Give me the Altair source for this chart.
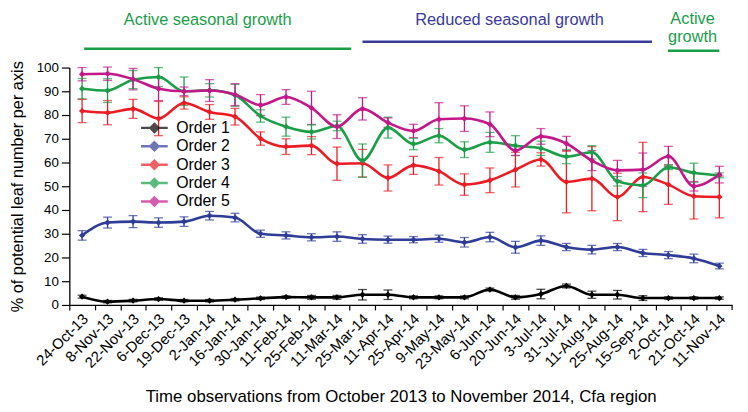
import altair as alt
import pandas as pd

dates = ["24-Oct-13", "8-Nov-13", "22-Nov-13", "6-Dec-13", "19-Dec-13", "2-Jan-14",
         "16-Jan-14", "30-Jan-14", "11-Feb-14", "25-Feb-14", "11-Mar-14", "25-Mar-14",
         "11-Apr-14", "25-Apr-14", "9-May-14", "23-May-14", "6-Jun-14", "20-Jun-14",
         "3-Jul-14", "31-Jul-14", "11-Aug-14", "25-Aug-14", "15-Sep-14", "2-Oct-14",
         "21-Oct-14", "11-Nov-14"]

order1 = [3.5, 1.4, 1.8, 2.5, 1.8, 1.8, 2.2, 2.8, 3.3, 3.2, 3.2, 4.3, 4.3, 3.2, 3.2, 3.2,
          6.5, 3.2, 4.6, 8.0, 4.3, 4.3, 2.9, 2.9, 2.9, 2.9]
order2 = [29.3, 34.7, 35.1, 34.7, 35.1, 37.6, 36.8, 30.0, 29.3, 28.5, 28.8, 27.8, 27.5,
          27.5, 27.9, 26.4, 28.6, 24.3, 27.1, 24.4, 23.3, 24.4, 21.9, 21.0, 19.6, 16.4]
order3 = [81.7, 81.0, 82.6, 78.5, 85.1, 81.3, 79.3, 70.1, 66.7, 67.1, 59.5, 59.7, 53.5,
          58.8, 56.3, 50.7, 52.5, 57.0, 61.3, 51.8, 53.2, 45.5, 53.9, 50.7, 45.8, 45.5]
order4 = [91.1, 90.3, 94.9, 96.0, 90.0, 90.4, 88.3, 79.6, 75.1, 72.9, 75.4, 60.8, 74.7,
          67.8, 71.3, 65.4, 68.5, 67.1, 66.0, 62.5, 64.3, 52.1, 50.4, 58.0, 55.7, 54.6]
order5 = [97.2, 97.4, 95.1, 91.1, 90.0, 90.3, 88.6, 84.2, 87.6, 83.0, 75.1, 82.6, 76.8,
          73.3, 78.2, 78.5, 76.1, 65.0, 71.0, 68.0, 60.8, 56.7, 57.0, 62.6, 50.0, 54.9]

err1 = [0.6, 0.5, 0.5, 0.5, 0.5, 0.5, 0.5, 0.5, 0.5, 0.8, 0.8, 2.2, 2.0, 0.6, 0.6, 0.6,
        0.6, 0.8, 2.0, 0.8, 1.5, 1.8, 1.0, 0.5, 0.5, 0.5]
err2 = [2.0, 2.3, 2.5, 2.0, 2.0, 1.8, 1.8, 1.5, 1.5, 1.5, 2.0, 1.8, 1.5, 1.3, 1.5, 2.0,
        2.0, 2.5, 2.0, 1.5, 1.8, 1.5, 1.5, 1.5, 1.8, 1.2]
err3 = [4.9, 5.1, 4.0, 7.2, 2.6, 3.1, 3.5, 2.8, 3.3, 3.8, 7.0, 5.8, 5.5, 3.8, 5.8, 4.5,
        5.2, 7.3, 2.8, 13.0, 13.5, 10.0, 14.6, 8.3, 9.6, 8.8]
err4 = [4.3, 5.0, 3.8, 4.0, 6.0, 2.8, 4.6, 2.6, 4.0, 3.0, 2.0, 7.0, 4.4, 2.4, 3.0, 3.3,
        4.2, 4.2, 3.0, 3.0, 2.8, 2.0, 5.2, 1.0, 4.0, 1.0]
err5 = [2.8, 2.8, 4.5, 5.0, 1.8, 4.6, 4.6, 4.4, 3.1, 7.0, 5.0, 4.7, 2.0, 2.8, 7.0, 5.4,
        5.2, 2.0, 3.3, 3.0, 4.2, 4.2, 7.0, 4.2, 2.0, 3.5]

series_names = ["Order 1", "Order 2", "Order 3", "Order 4", "Order 5"]
series_colors = ["#000000", "#2f3c98", "#ec1c24", "#1a9e48", "#c4178a"]

period_labels = ["Active seasonal growth", "Reduced seasonal growth", "Active\ngrowth"]
period_colors = ["#1a9e48", "#3a3a9c", "#1a9e48"]
period_start = [0.08, 11.0, 22.98]
period_end = [10.56, 22.36, 25.0]
period_text_x = [4.93, 16.77, 23.95]
period_line_y = [-19, -26, -17]
period_text_y = [-48, -48, -49]

rows = []
for name, vals, errs in zip(series_names,
                            [order1, order2, order3, order4, order5],
                            [err1, err2, err3, err4, err5]):
    for i, (v, e) in enumerate(zip(vals, errs)):
        rows.append({"idx": i, "date": dates[i], "series": name, "value": v,
                     "lo": v - e, "hi": v + e})
df = pd.DataFrame(rows)

periods = pd.DataFrame({"label": period_labels, "color": period_colors,
                        "start": period_start, "end": period_end,
                        "tx": period_text_x, "ly": period_line_y, "ty": period_text_y})

label_array = "[" + ",".join("'" + d + "'" for d in dates) + "]"
W, H = 670, 240
half = W / 26 / 2

xscale = alt.Scale(domain=[-0.5, 25.5], nice=False, zero=False)
yscale = alt.Scale(domain=[0, 100], nice=False)
xaxis = alt.Axis(values=list(range(26)), labelExpr=label_array + "[datum.value]",
                 labelAngle=-45, labelAlign="right", labelBaseline="middle",
                 labelOverlap=False, labelPadding=6,
                 tickOffset=-half, labelOffset=half + 3, tickSize=5,
                 labelFontSize=15, titleFontSize=17, titlePadding=17,
                 title="Time observations from October 2013 to November 2014, Cfa region")
yaxis = alt.Axis(values=list(range(0, 101, 10)), tickSize=8, labelFontSize=13.5,
                 labelOverlap=False, labelPadding=3,
                 titleFontSize=16.5, titlePadding=11,
                 title="% of potential leaf number per axis")

color = alt.Color("series:N",
                  scale=alt.Scale(domain=series_names, range=series_colors),
                  legend=alt.Legend(title=None, orient="none", legendX=78, legendY=53,
                                    labelFontSize=16, labelOffset=14,
                                    symbolType="M-2,0L2,0M0,-0.6L0.6,0L0,0.6L-0.6,0Z",
                                    symbolSize=182, symbolStrokeWidth=2.5, rowPadding=-1.4))

base = alt.Chart(df)
x = alt.X("idx:Q", scale=xscale, axis=xaxis)

bars = base.mark_rule(strokeWidth=1.3).encode(
    x=x, y=alt.Y("lo:Q", scale=yscale, axis=yaxis), y2="hi:Q",
    color=color)
caps_lo = base.mark_tick(orient="horizontal", size=9, thickness=1.3).encode(
    x=x, y=alt.Y("lo:Q", scale=yscale, axis=yaxis), color=color)
caps_hi = base.mark_tick(orient="horizontal", size=9, thickness=1.3).encode(
    x=x, y=alt.Y("hi:Q", scale=yscale, axis=yaxis), color=color)
lines = base.mark_line(interpolate="monotone", strokeWidth=2.6).encode(
    x=x, y=alt.Y("value:Q", scale=yscale, axis=yaxis), color=color, order="idx:Q")
points = base.mark_point(shape="diamond", filled=True, size=40, opacity=1).encode(
    x=x, y=alt.Y("value:Q", scale=yscale, axis=yaxis), color=color)

end_tick = alt.Chart(pd.DataFrame({"e": [25.5]})).mark_rule(color="black", strokeWidth=1.2).encode(
    x=alt.X("e:Q", scale=xscale, axis=xaxis), y=alt.value(H), y2=alt.value(H + 5))

pbase = alt.Chart(periods)
plines = pbase.mark_rule(strokeWidth=2.5, clip=False).encode(
    x=alt.X("start:Q", scale=xscale, axis=xaxis), x2="end:Q",
    y=alt.Y("ly:Q", scale=None),
    stroke=alt.Stroke("color:N", scale=None, legend=None))
ptext = pbase.mark_text(fontSize=16.5, font="Liberation Sans", baseline="middle",
                        align="center", lineBreak="\n", lineHeight=18, clip=False).encode(
    x=alt.X("tx:Q", scale=xscale, axis=xaxis), y=alt.Y("ty:Q", scale=None),
    text="label:N", fill=alt.Fill("color:N", scale=None, legend=None))

chart = alt.layer(bars, caps_lo, caps_hi, lines, points, end_tick, plines, ptext).properties(
    width=W, height=H,
    autosize=alt.AutoSizeParams(type="none"),
    padding={"left": 62, "top": 58, "right": 8, "bottom": 104},
).configure_view(stroke=None).configure_axis(
    domainColor="black", tickColor="black", labelColor="black", titleColor="black",
    labelFont="Liberation Sans", titleFont="Liberation Sans", titleFontWeight="normal",
    grid=False, domainWidth=1.3, tickWidth=1.2, labelOverlap=False
).configure_legend(labelFont="Liberation Sans", labelColor="black")

chart.save("out.html", embed_options={"renderer": "svg", "actions": False})
